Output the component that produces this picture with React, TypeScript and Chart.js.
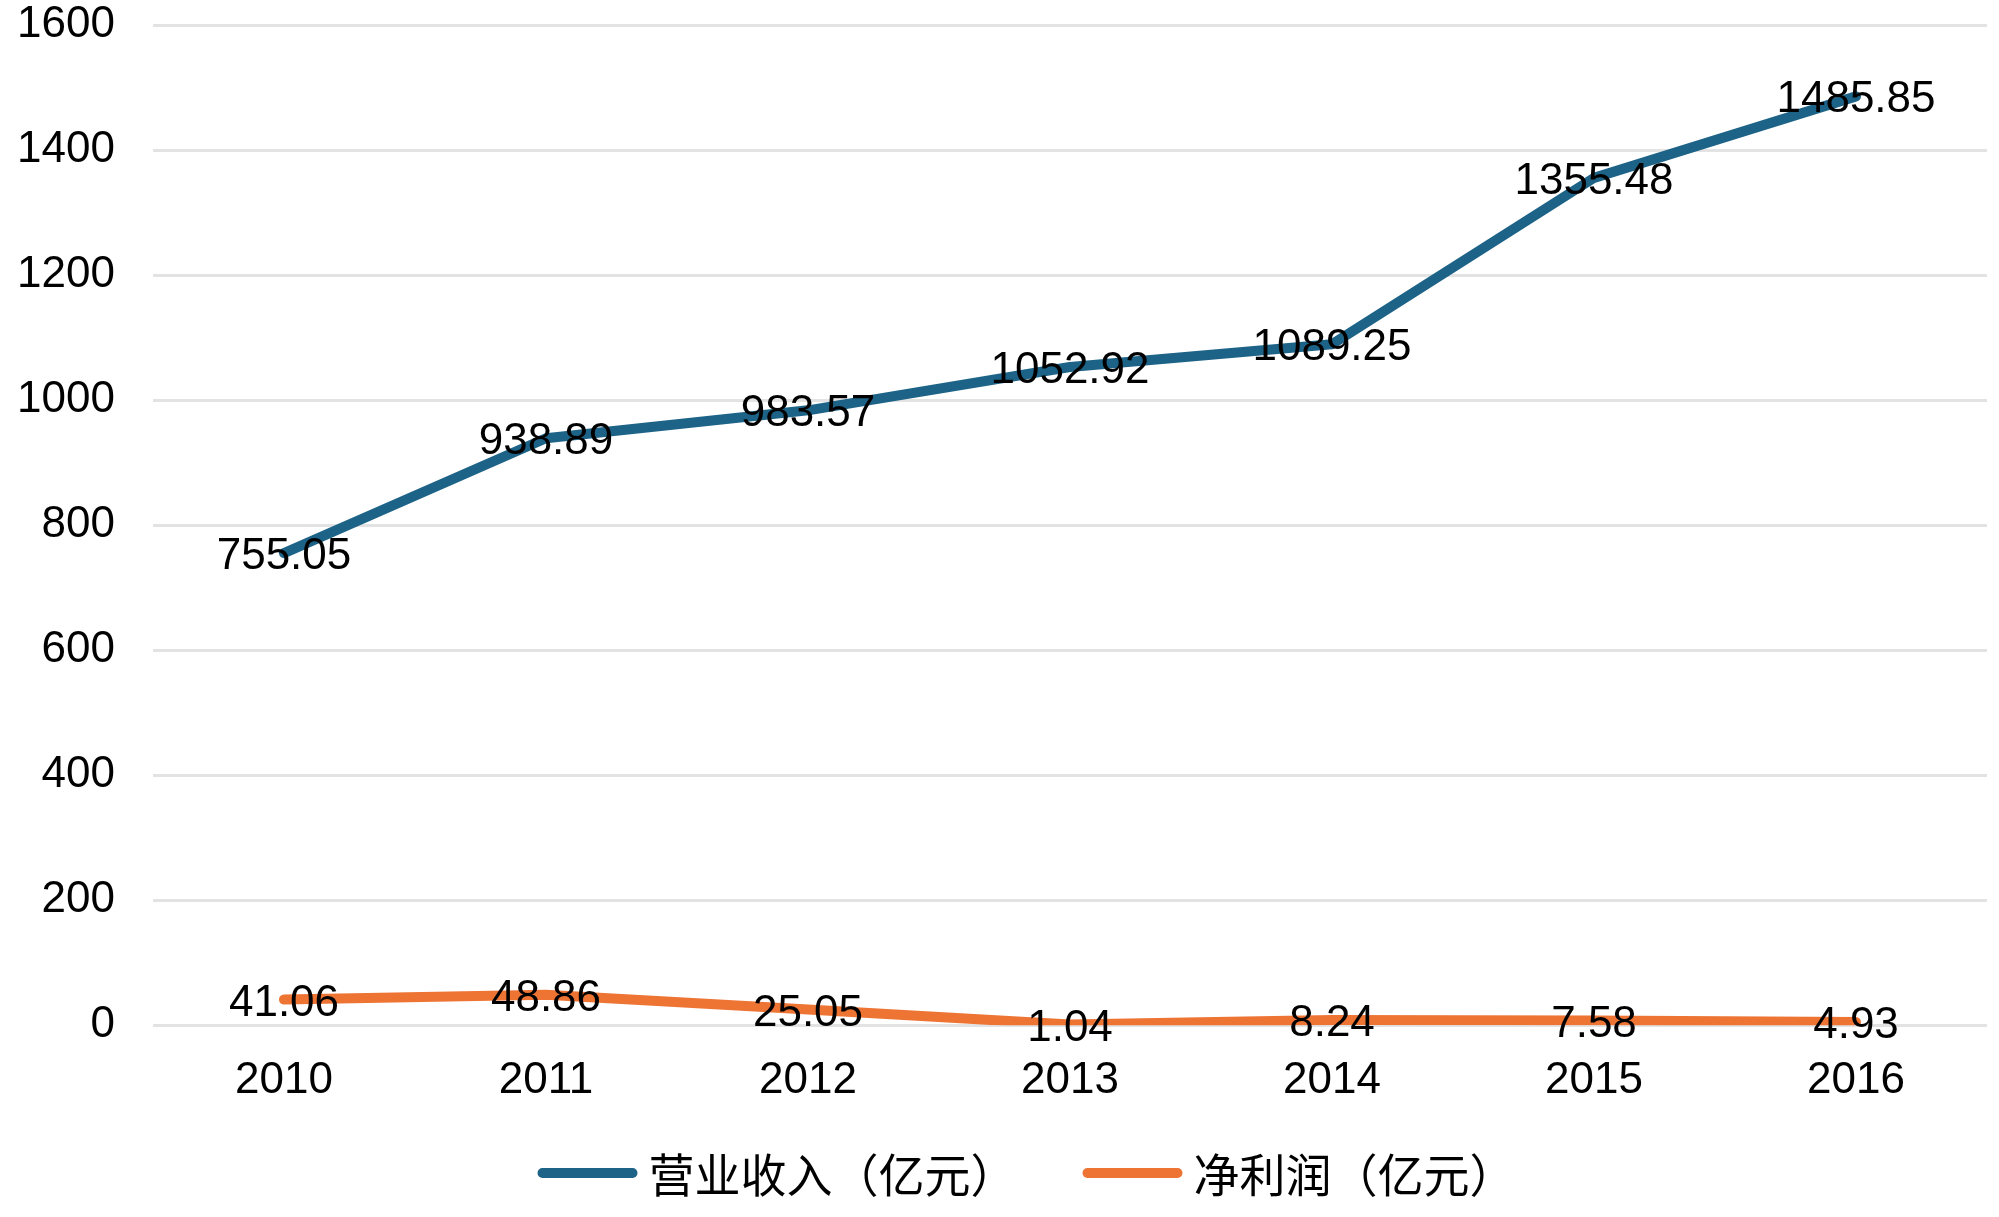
import React, { useEffect, useRef } from "react";
import { Chart, registerables } from "chart.js";

Chart.register(...registerables);

const years = ["2010", "2011", "2012", "2013", "2014", "2015", "2016"];
const revenue = [755.05, 938.89, 983.57, 1052.92, 1089.25, 1355.48, 1485.85];
const profit = [41.06, 48.86, 25.05, 1.04, 8.24, 7.58, 4.93];
const revenueLabel = "营业收入（亿元）";
const profitLabel = "净利润（亿元）";

const FONT = "'Liberation Sans', Arial, 'Noto Sans CJK SC', sans-serif";
const CJK_FONT = "'Noto Sans CJK SC', 'Liberation Sans', sans-serif";

const valueLabels = {
  id: "valueLabels",
  afterDatasetsDraw(chart: any) {
    const ctx = chart.ctx;
    ctx.save();
    ctx.font = `44px ${FONT}`;
    ctx.fillStyle = "#000000";
    ctx.textAlign = "center";
    ctx.textBaseline = "middle";
    chart.data.datasets.forEach((ds: any, i: number) => {
      const meta = chart.getDatasetMeta(i);
      meta.data.forEach((pt: any, j: number) => {
        ctx.fillText(ds.data[j].toFixed(2), pt.x, pt.y + 4);
      });
    });
    ctx.restore();
  },
};

const bottomLegend = {
  id: "bottomLegend",
  afterDraw(chart: any) {
    const ctx = chart.ctx;
    const y = 1173;
    const lineLen = 90;
    const gapText = 11;
    const itemGap = 66;
    ctx.save();
    ctx.font = `46px ${CJK_FONT}`;
    const items = chart.data.datasets.map((ds: any) => ({
      label: ds.label,
      color: ds.borderColor,
      w: 5 + lineLen + 5 + gapText + ctx.measureText(ds.label).width,
    }));
    const total = items.reduce((a: number, it: any) => a + it.w, 0) + itemGap * (items.length - 1);
    let x = chart.width / 2 + 27 - total / 2;
    items.forEach((it: any) => {
      ctx.strokeStyle = it.color;
      ctx.lineWidth = 10;
      ctx.lineCap = "round";
      ctx.beginPath();
      ctx.moveTo(x + 5, y);
      ctx.lineTo(x + 5 + lineLen, y);
      ctx.stroke();
      ctx.fillStyle = "#000";
      ctx.textAlign = "left";
      ctx.textBaseline = "middle";
      ctx.fillText(it.label, x + lineLen + 10 + gapText, y + 2);
      x += it.w + itemGap;
    });
    ctx.restore();
  },
};

export default function App() {
  const ref = useRef<HTMLCanvasElement | null>(null);
  useEffect(() => {
    document.body.style.margin = "0";
    const chart = new Chart(ref.current!, {
      type: "line",
      data: {
        labels: years,
        datasets: [
          {
            label: revenueLabel,
            data: revenue,
            borderColor: "#1C6387",
            backgroundColor: "#1C6387",
            borderWidth: 10,
            borderCapStyle: "round",
            borderJoinStyle: "round",
            pointRadius: 0,
            tension: 0,
          },
          {
            label: profitLabel,
            data: profit,
            borderColor: "#EE7434",
            backgroundColor: "#EE7434",
            borderWidth: 10,
            borderCapStyle: "round",
            borderJoinStyle: "round",
            pointRadius: 0,
            tension: 0,
          },
        ],
      },
      options: {
        animation: false,
        responsive: false,
        devicePixelRatio: 1,
        layout: { padding: { top: 0, right: 12, left: 0, bottom: 81 } },
        scales: {
          x: {
            offset: true,
            grid: { display: false, drawTicks: false },
            border: { display: false },
            ticks: { color: "#000", font: { size: 44, family: FONT }, padding: 29 },
          },
          y: {
            min: 0,
            max: 1600,
            afterFit: (s: any) => {
              s.width = 153;
              s.paddingTop = 25;
              s.paddingBottom = 0;
            },
            grid: { color: "#E3E3E3", lineWidth: 3, drawTicks: false },
            border: { display: false },
            ticks: {
              stepSize: 200,
              color: "#000",
              font: { size: 44, family: FONT },
              padding: 38,
              callback: (v: any) => String(v),
            },
          },
        },
        plugins: {
          tooltip: { enabled: false },
          legend: { display: false },
        },
      },
      plugins: [valueLabels, bottomLegend],
    } as any);
    return () => chart.destroy();
  }, []);
  return (
    <div style={{ width: 1999, height: 1217 }}>
      <canvas ref={ref} width={1999} height={1217} style={{ width: 1999, height: 1217 }} />
    </div>
  );
}
